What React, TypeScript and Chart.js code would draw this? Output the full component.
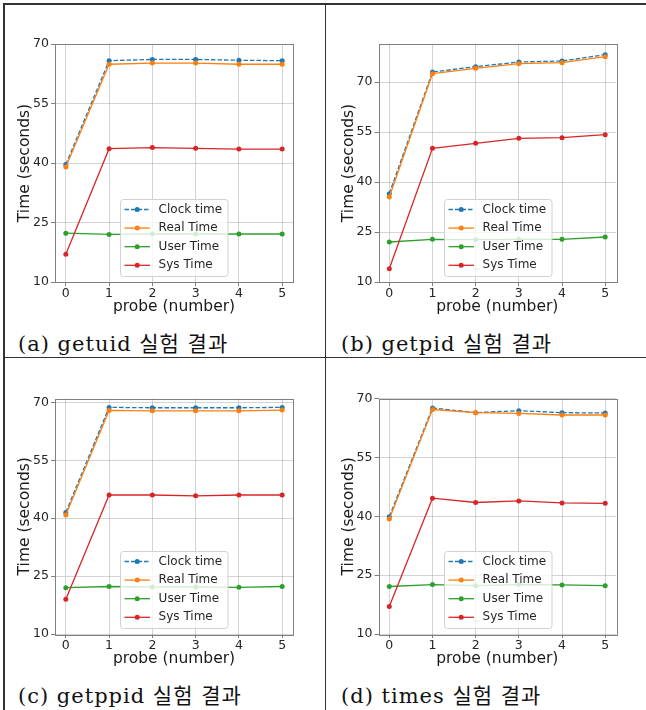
import React, { useEffect, useRef } from "react";
import { Chart, registerables } from "chart.js";

Chart.register(...registerables);

// ---- data ----
const probes = [0, 1, 2, 3, 4, 5];
const seriesLabels = ["Clock time", "Real Time", "User Time", "Sys Time"];
const seriesColors = ["#1f77b4", "#ff7f0e", "#2ca02c", "#d62728"];
const yTicks = [10, 25, 40, 55, 70];

const getuidClock = [39.6, 65.8, 66.1, 66.1, 65.9, 65.8];
const getuidReal = [39.0, 64.9, 65.2, 65.2, 64.9, 64.9];
const getuidUser = [22.3, 22.0, 22.1, 22.1, 22.1, 22.1];
const getuidSys = [17.0, 43.6, 43.9, 43.7, 43.5, 43.5];

const getpidClock = [36.5, 73.0, 74.6, 76.0, 76.3, 78.2];
const getpidReal = [35.5, 72.5, 74.1, 75.5, 75.8, 77.6];
const getpidUser = [22.0, 22.8, 22.7, 22.8, 22.8, 23.5];
const getpidSys = [14.0, 50.1, 51.6, 53.1, 53.3, 54.2];

const getppidClock = [41.5, 68.7, 68.6, 68.6, 68.6, 68.7];
const getppidReal = [40.8, 67.9, 67.8, 67.8, 67.8, 68.0];
const getppidUser = [22.0, 22.3, 22.2, 22.2, 22.1, 22.3];
const getppidSys = [19.0, 46.0, 46.0, 45.8, 46.0, 46.0];

const timesClock = [39.9, 67.6, 66.4, 66.9, 66.4, 66.3];
const timesReal = [39.3, 67.2, 66.4, 66.2, 65.8, 65.8];
const timesUser = [22.1, 22.6, 22.3, 22.6, 22.5, 22.3];
const timesSys = [17.0, 44.6, 43.5, 43.9, 43.4, 43.3];

const captions = [
  "(a) getuid 실험 결과",
  "(b) getpid 실험 결과",
  "(c) getppid 실험 결과",
  "(d) times 실험 결과",
];
const yMaxes = [70, 81.4, 71, 70];
const xLabel = "probe (number)";
const yLabel = "Time (seconds)";

const panelSeries = [
  [getuidClock, getuidReal, getuidUser, getuidSys],
  [getpidClock, getpidReal, getpidUser, getpidSys],
  [getppidClock, getppidReal, getppidUser, getppidSys],
  [timesClock, timesReal, timesUser, timesSys],
];

// ---- layout (page coordinates) ----
type Panel = {
  x0: number; y0: number; w: number; h: number;
  L: number; T: number; R: number; B: number;
  capX: number; capY: number;
};
const panels: Panel[] = [
  { x0: 6, y0: 6, w: 316, h: 320, L: 55, T: 44, R: 293, B: 282, capX: 18, capY: 343.5 },
  { x0: 330, y0: 6, w: 314, h: 320, L: 378.5, T: 44, R: 616, B: 282, capX: 341, capY: 343.5 },
  { x0: 6, y0: 360, w: 316, h: 320, L: 55, T: 398.5, R: 293, B: 634, capX: 18, capY: 696 },
  { x0: 330, y0: 360, w: 314, h: 320, L: 378.5, T: 398.5, R: 616, B: 634, capX: 341, capY: 696 },
];

const FONT = '"DejaVu Sans", sans-serif';

const mplPlugin = {
  id: "mplFrameLegend",
  afterDatasetsDraw(chart: any) {
    const { ctx, chartArea: ca } = chart;
    ctx.save();
    // spines
    ctx.strokeStyle = "#808080";
    ctx.lineWidth = 1;
    ctx.strokeRect(Math.round(ca.left) + 0.5, Math.round(ca.top) + 0.5, Math.round(ca.right - ca.left), Math.round(ca.bottom - ca.top));
    // legend (lower center)
    const w = 107.5;
    const h = 77;
    const left = Math.round((ca.left + ca.right) / 2 - w / 2);
    const top = Math.round(ca.bottom - 6.5 - h);
    ctx.beginPath();
    (ctx as any).roundRect(left + 0.5, top + 0.5, w, h, 3);
    ctx.fillStyle = "rgba(255,255,255,0.8)";
    ctx.fill();
    ctx.strokeStyle = "rgba(204,204,204,0.9)";
    ctx.lineWidth = 1;
    ctx.stroke();
    chart.data.datasets.forEach((ds: any, i: number) => {
      const y = top + 10.5 + i * 18.6;
      ctx.strokeStyle = ds.borderColor;
      ctx.lineWidth = ds.borderWidth;
      ctx.setLineDash(ds.borderDash || []);
      ctx.beginPath();
      ctx.moveTo(left + 4.5, y);
      ctx.lineTo(left + 30, y);
      ctx.stroke();
      ctx.setLineDash([]);
      ctx.fillStyle = ds.borderColor;
      ctx.beginPath();
      ctx.arc(left + 17.2, y, 2.5, 0, Math.PI * 2);
      ctx.fill();
      ctx.fillStyle = "#262626";
      ctx.font = `12px ${FONT}`;
      ctx.textBaseline = "middle";
      ctx.textAlign = "left";
      ctx.fillText(ds.label, left + 38.6, y);
    });
    ctx.restore();
  },
};

function PanelChart({ idx }: { idx: number }) {
  const ref = useRef<HTMLCanvasElement | null>(null);
  const p = panels[idx];
  useEffect(() => {
    if (!ref.current) return;
    const series = panelSeries[idx];
    const datasets = series.map((vals, i) => ({
      label: seriesLabels[i],
      data: probes.map((x, j) => ({ x, y: vals[j] })),
      borderColor: seriesColors[i],
      backgroundColor: seriesColors[i],
      borderWidth: 1.3,
      borderDash: i === 0 ? [4.5, 2] : [],
      pointRadius: 2.5,
      pointBorderWidth: 0,
      pointBackgroundColor: seriesColors[i],
      tension: 0,
      order: 4 - i,
    }));
    const gridColor = "rgba(176,176,176,0.55)";
    const chart = new Chart(ref.current, {
      type: "line",
      data: { datasets },
      plugins: [mplPlugin],
      options: {
        animation: false,
        responsive: false,
        maintainAspectRatio: false,
        devicePixelRatio: 1,
        layout: {
          padding: { left: 0, top: p.T - p.y0, right: p.x0 + p.w - p.R, bottom: 0 },
        },
        plugins: { legend: { display: false }, tooltip: { enabled: false } },
        scales: {
          x: {
            type: "linear",
            min: -0.25,
            max: 5.25,
            afterBuildTicks: (s: any) => {
              s.ticks = probes.map((v) => ({ value: v }));
            },
            afterFit: (s: any) => {
              s.height = p.y0 + p.h - p.B;
            },
            grid: { color: gridColor, tickColor: "#808080", tickLength: 4, lineWidth: 1 },
            border: { display: false },
            ticks: { padding: 0, color: "#262626", font: { family: FONT, size: 12.5 }, maxRotation: 0 },
            title: {
              display: true,
              text: xLabel,
              color: "#1a1a1a",
              font: { family: FONT, size: 15.5 },
              padding: { top: 0, bottom: p.y0 + p.h - p.B - 34 },
            },
          },
          y: {
            type: "linear",
            min: 10,
            max: yMaxes[idx],
            afterBuildTicks: (s: any) => {
              s.ticks = yTicks.map((v) => ({ value: v }));
            },
            afterFit: (s: any) => {
              s.width = p.L - p.x0;
            },
            grid: { color: gridColor, tickColor: "#808080", tickLength: 4, lineWidth: 1 },
            border: { display: false },
            ticks: { padding: 2, color: "#262626", font: { family: FONT, size: 12.5 } },
            title: {
              display: true,
              text: yLabel,
              color: "#1a1a1a",
              font: { family: FONT, size: 15.5 },
              padding: { top: p.L - 30 - p.x0 - 9, bottom: 0 },
            },
          },
        },
      } as any,
    });
    return () => chart.destroy();
  }, [idx]);
  return (
    <>
      <canvas
        ref={ref}
        width={p.w}
        height={p.h}
        style={{ position: "absolute", left: p.x0, top: p.y0, width: p.w, height: p.h }}
      />
      <div
        style={{
          position: "absolute",
          left: p.capX,
          top: p.capY - 12,
          height: 24,
          lineHeight: "24px",
          fontSize: 21,
          fontFamily: '"DejaVu Serif", "Noto Sans CJK KR", serif',
          letterSpacing: 1,
          color: "#111",
          whiteSpace: "nowrap",
        }}
      >
        {captions[idx]}
      </div>
    </>
  );
}

export default function App() {
  const line = (style: React.CSSProperties) => (
    <div style={{ position: "absolute", background: "#333", ...style }} />
  );
  return (
    <div style={{ position: "absolute", left: 0, top: 0, width: 646, height: 710, background: "#fff", overflow: "hidden" }}>
      {[0, 1, 2, 3].map((i) => (
        <PanelChart key={i} idx={i} />
      ))}
      {line({ left: 3, top: 3, width: 643, height: 2 })}
      {line({ left: 3, top: 3, width: 2, height: 707 })}
      {line({ left: 325, top: 3, width: 1, height: 707 })}
      {line({ left: 3, top: 357, width: 643, height: 1 })}
    </div>
  );
}
